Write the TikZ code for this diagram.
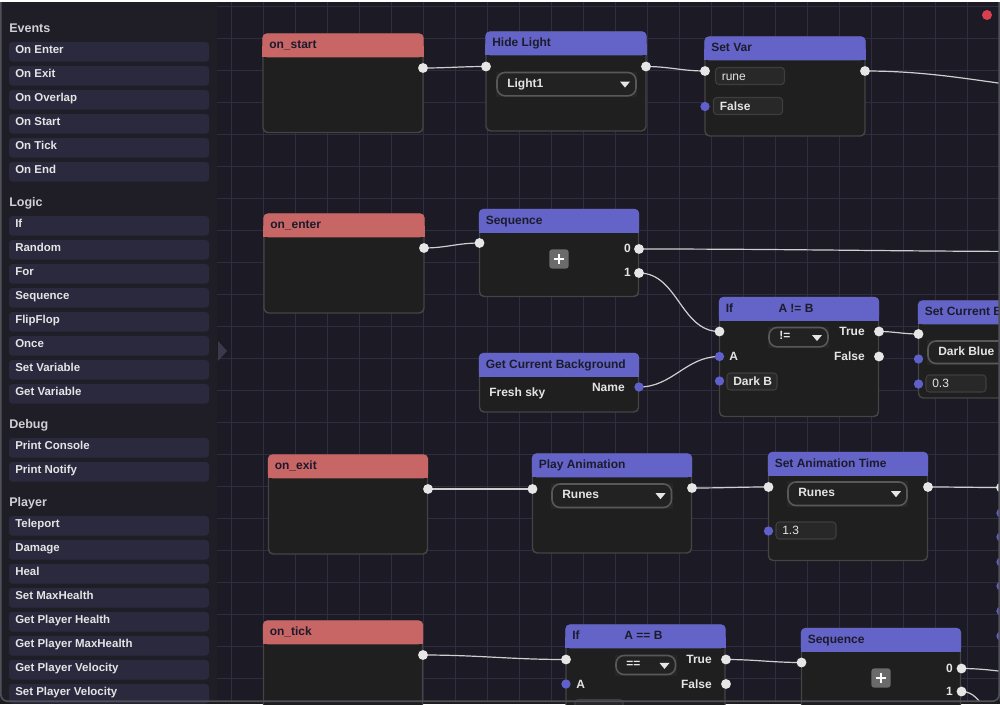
\documentclass[tikz,border=0pt]{standalone}
\usepackage{fontspec}
\setmainfont{Liberation Sans}
\pgfdeclarelayer{bglayer}
\pgfdeclarelayer{gridlayer}
\pgfdeclarelayer{wirelayer}
\pgfsetlayers{bglayer,gridlayer,wirelayer,main}
\definecolor{canvasc}{HTML}{1B1A25}
\definecolor{gridc}{HTML}{2F2E3E}
\definecolor{sidec}{HTML}{1F1E27}
\definecolor{itemc}{HTML}{2A293E}
\definecolor{nbodyc}{HTML}{1F1F1F}
\definecolor{nborderc}{HTML}{444444}
\definecolor{hredc}{HTML}{C86565}
\definecolor{hbluec}{HTML}{6464C8}
\definecolor{htextc}{HTML}{1C1B2C}
\definecolor{ltextc}{HTML}{E4E4E4}
\definecolor{sheadc}{HTML}{D0D0D4}
\definecolor{fieldbgc}{HTML}{282828}
\definecolor{fieldbdc}{HTML}{3E3E3E}
\definecolor{ddbackc}{HTML}{262626}
\definecolor{ddfillc}{HTML}{222222}
\definecolor{ddbdc}{HTML}{585858}
\definecolor{cpinw}{HTML}{E6E6E6}
\definecolor{cpinb}{HTML}{6060CC}
\definecolor{wirec}{HTML}{CFCFCF}
\definecolor{reddotc}{HTML}{D8404F}
\definecolor{plusbgc}{HTML}{6B6B6B}
\definecolor{handlec}{HTML}{3A3A4A}
\definecolor{framec}{HTML}{505058}
\definecolor{outerc}{HTML}{1C1C1C}
\newcommand\nodefont{\fontsize{9}{11}\selectfont\bfseries}
\newcommand\sidefont{\fontsize{8.6}{10}\selectfont\bfseries}
\newcommand\headfont{\fontsize{9.4}{11}\selectfont\bfseries}
\tikzset{
  nodebody/.style={fill=nbodyc, draw=nborderc, line width=1.1pt, rounded corners=3.5pt},
  ttl/.style={anchor=base west, inner sep=0pt, text=htextc, font=\nodefont},
  lbl/.style={anchor=base west, inner sep=0pt, text=ltextc, font=\nodefont},
  lblr/.style={lbl, anchor=base east},
  pw/.style={circle, fill=cpinw, inner sep=0pt, minimum size=7.4pt},
  pb/.style={circle, fill=cpinb, inner sep=0pt, minimum size=7pt},
  wire/.style={draw=wirec, line width=0.9pt},
  sideitem/.style={fill=itemc, rounded corners=2.5pt},
  sidetxt/.style={anchor=base west, inner sep=0pt, text=ltextc, font=\sidefont},
  sidehead/.style={anchor=base west, inner sep=0pt, text=sheadc, font=\headfont},
  ddpill/.style={fill=ddfillc, draw=ddbdc, line width=1.2pt, rounded corners=6pt},
  fieldst/.style={fill=fieldbgc, draw=fieldbdc, line width=0.8pt, rounded corners=2.5pt},
  plusbox/.style={rectangle, fill=plusbgc, rounded corners=2pt, inner sep=0pt, minimum size=14.4pt},
  gridline/.style={draw=gridc, line width=0.75pt}
}
\newcommand\flownode[7]{%
  \draw[nodebody] (#2,#3) rectangle ++(#4,#5);
  \fill[#6, rounded corners=3.5pt] (#2-0.7,#3-0.7) rectangle ++(#4+1.4,24);
  \fill[#6] (#2-0.7,#3+12) rectangle ++(#4+1.4,11.3);
  \node[ttl] (#1) at (#2+6,#3+14.5) {#7};
}
\newcommand\dropdown[6]{%
  \fill[ddbackc] (#2-1,#3-1) rectangle ++(#4+2,#5+2);
  \draw[ddpill] (#2,#3) rectangle ++(#4,#5);
  \node[lbl] (#1) at (#2+10,#3+0.63*#5) {#6};
  \fill[cpinw] (#2+#4-16,#3+0.39*#5) -- ++(10,0) -- ++(-5,6) -- cycle;
}
\newcommand\infield[5]{%
  \draw[fieldst] (#2,#3) rectangle ++(#4,17);
  \node[lbl] (#1) at (#2+6,#3+12.8) {#5};
}
\newcommand\plusbutton[3]{%
  \node[plusbox] (#1) at (#2,#3) {};
  \draw[white, line width=1.9pt] (#2-5,#3) -- (#2+5,#3) (#2,#3-5) -- (#2,#3+5);
}
\begin{document}
\begin{tikzpicture}[x=0.75pt,y=-0.75pt]
\useasboundingbox (0,0) rectangle (1000,704);
\clip (0,0) rectangle (1000,704);
% backgrounds
\begin{pgfonlayer}{bglayer}
  \fill[outerc] (0,0) rectangle (1000,704);
  \fill[white] (0,0) rectangle (1000,2);
  \fill[canvasc] (0,2) rectangle (1000,701);
  \fill[sidec] (0,2) rectangle (217,701);
\end{pgfonlayer}
% grid
\begin{pgfonlayer}{gridlayer}
  \clip (217,2) rectangle (1000,701);
  \foreach \gx in {231,263,...,999} \draw[gridline] (\gx,2) -- (\gx,701);
  \foreach \gy in {6,38,...,700} \draw[gridline] (217,\gy) -- (1000,\gy);
\end{pgfonlayer}
% sidebar
\node[sidehead] (hevents) at (9,32) {Events};
\node[sidehead] (hlogic) at (9,206) {Logic};
\node[sidehead] (hdebug) at (9,428) {Debug};
\node[sidehead] (hplayer) at (9,506) {Player};
\foreach \t/\y in {On Enter/42,On Exit/66,On Overlap/90,On Start/114,On Tick/138,On End/162,
  If/216,Random/240,For/264,Sequence/288,FlipFlop/312,Once/336,Set Variable/360,Get Variable/384,
  Print Console/438,Print Notify/462,
  Teleport/516,Damage/540,Heal/564,Set MaxHealth/588,Get Player Health/612,Get Player MaxHealth/636,Get Player Velocity/660,Set Player Velocity/684}{
  \fill[sideitem] (9,\y) rectangle ++(200,19.5);
  \node[sidetxt] (item\y) at (15,\y+11) {\t};
}
\fill[handlec] (218,341) -- (227,351) -- (218,361) -- cycle;
\node[circle, fill=reddotc, inner sep=0pt, minimum size=7.5pt] (closebtn) at (987,15) {};
% ---- row 1
\flownode{onstart}{263}{34}{160}{98.5}{hredc}{on\_start}
\node[pw] (onstarto) at (423,68) {};
\flownode{hide}{486}{32}{160}{99}{hbluec}{Hide Light}
\dropdown{hidedd}{497}{72.5}{139}{23.3}{Light1}
\node[pw] (hidei) at (486,66.5) {};
\node[pw] (hideo) at (646,66.5) {};
\flownode{setvar}{705}{37}{160}{99}{hbluec}{Set Var}
\infield{svrune}{715.5}{67.5}{69}{\mdseries rune}
\infield{svfalse}{713.5}{97.5}{69}{False}
\node[pw] (setvari) at (705,71) {};
\node[pw] (setvaro) at (865,71) {};
\node[pb] (setvarb) at (705,106.5) {};
% ---- row 2
\flownode{onenter}{264}{214}{160}{99}{hredc}{on\_enter}
\node[pw] (onentero) at (424,248) {};
\flownode{seqa}{479.5}{209.5}{159}{87}{hbluec}{Sequence}
\plusbutton{seqaplus}{559}{259}
\node[lblr] (seqa0) at (631,252.5) {0};
\node[lblr] (seqa1) at (631,276.5) {1};
\node[pw] (seqai) at (479.5,243) {};
\node[pw] (seqao0) at (639,249) {};
\node[pw] (seqao1) at (639,273) {};
\flownode{gcb}{479.5}{353.5}{159}{58.5}{hbluec}{Get Current Background}
\node[lbl] (gcbval) at (489,396) {Fresh sky};
\node[lblr] (gcbname) at (625,391) {Name};
\node[pb] (gcbo) at (639,387) {};
\flownode{ifa}{719.5}{297.5}{159}{119}{hbluec}{If}
\node[ttl, anchor=base] (ifacond) at (796,312) {A != B};
\dropdown{ifadd}{769}{327.5}{59}{19.3}{!=}
\node[lblr] (ifatrue) at (865,335.5) {True};
\node[lblr] (ifafalse) at (865,360.5) {False};
\node[lbl] (ifaA) at (729,360.5) {A};
\infield{ifadark}{727}{373}{50}{Dark B}
\node[pw] (ifai) at (719.5,331.5) {};
\node[pb] (ifaa) at (719.5,356.5) {};
\node[pb] (ifab) at (719.5,381) {};
\node[pw] (ifat) at (879,331.5) {};
\node[pw] (ifaf) at (879,356.5) {};
\flownode{scb}{918.5}{301}{160}{97}{hbluec}{Set Current B}
\dropdown{scbdd}{928}{341}{110}{22.5}{Dark Blue}
\infield{scbval}{926}{375}{60}{\mdseries 0.3}
\node[pw] (scbi) at (918.5,334) {};
\node[pb] (scbb1) at (918.5,359) {};
\node[pb] (scbb2) at (918.5,384) {};
% ---- row 3
\flownode{onexit}{268.5}{455}{159}{99}{hredc}{on\_exit}
\node[pw] (onexito) at (428,489) {};
\flownode{play}{532.5}{454}{159}{99}{hbluec}{Play Animation}
\dropdown{playdd}{552}{484}{119.5}{23.5}{Runes}
\node[pw] (playi) at (532.5,489) {};
\node[pw] (playo) at (692,488) {};
\flownode{sat}{768.5}{452.5}{159}{108}{hbluec}{Set Animation Time}
\dropdown{satdd}{788}{482}{119}{23.5}{Runes}
\infield{satval}{776}{522}{60}{\mdseries 1.3}
\node[pw] (sati) at (768.5,487) {};
\node[pw] (sato) at (928,487) {};
\node[pb] (satb) at (768.5,531) {};
\node[pw] (edgew) at (1001,487.5) {};
\foreach \py in {513,537,562,586,611,636} \node[pb] (edgeb\py) at (1001,\py) {};
% ---- row 4
\flownode{ontick}{263.5}{621}{159}{120}{hredc}{on\_tick}
\node[pw] (onticko) at (423,655) {};
\flownode{ifb}{566}{625}{159}{120}{hbluec}{If}
\node[ttl, anchor=base] (ifbcond) at (643.5,639.5) {A == B};
\dropdown{ifbdd}{616}{655.5}{59.5}{19}{==}
\node[lblr] (ifbtrue) at (712,663.5) {True};
\node[lblr] (ifbfalse) at (712,688) {False};
\node[lbl] (ifbA) at (576,688) {A};
\draw[fieldst] (575,699.5) rectangle ++(48,17);
\node[pw] (ifbi) at (566,659.5) {};
\node[pb] (ifba) at (566,684) {};
\node[pw] (ifbt) at (726,659.5) {};
\node[pw] (ifbf) at (726,684) {};
\flownode{seqb}{801.5}{628.5}{159}{120}{hbluec}{Sequence}
\plusbutton{seqbplus}{881}{678}
\node[lblr] (seqb0) at (953,672.5) {0};
\node[lblr] (seqb1) at (953,695.5) {1};
\node[pw] (seqbi) at (801.5,662.5) {};
\node[pw] (seqbo0) at (961.5,668.5) {};
\node[pw] (seqbo1) at (961.5,691.5) {};
% off-canvas ends
\coordinate (offa) at (1110,92);
\coordinate (offb) at (1060,251.5);
\coordinate (offc) at (1040,674);
\coordinate (offd) at (1010,730);
% wires
\begin{pgfonlayer}{wirelayer}
  \clip (217,2) rectangle (1000,701);
  \draw[wire] (onstarto.center) to[out=0,in=180] (hidei.center);
  \draw[wire] (hideo.center) to[out=0,in=180] (setvari.center);
  \draw[wire] (setvaro.center) to[out=0,in=180] (offa);
  \draw[wire] (onentero.center) to[out=0,in=180] (seqai.center);
  \draw[wire] (seqao0.center) to[out=0,in=180] (offb);
  \draw[wire] (seqao1.center) to[out=0,in=180] (ifai.center);
  \draw[wire] (gcbo.center) to[out=0,in=180] (ifaa.center);
  \draw[wire] (ifat.center) to[out=0,in=180] (scbi.center);
  \draw[wire] (onexito.center) to[out=0,in=180] (playi.center);
  \draw[wire] (playo.center) to[out=0,in=180] (sati.center);
  \draw[wire] (sato.center) to[out=0,in=180] (edgew.center);
  \draw[wire] (onticko.center) to[out=0,in=180] (ifbi.center);
  \draw[wire] (ifbt.center) to[out=0,in=180] (seqbi.center);
  \draw[wire] (seqbo0.center) to[out=0,in=180] (offc);
  \draw[wire] (seqbo1.center) to[out=0,in=180] (offd);
\end{pgfonlayer}
% window frame
\draw[framec, line width=1.2pt, rounded corners=5pt] (0.8,2) -- (0.8,701.2) -- (999.2,701.2) -- (999.2,2);
\end{tikzpicture}
\end{document}
